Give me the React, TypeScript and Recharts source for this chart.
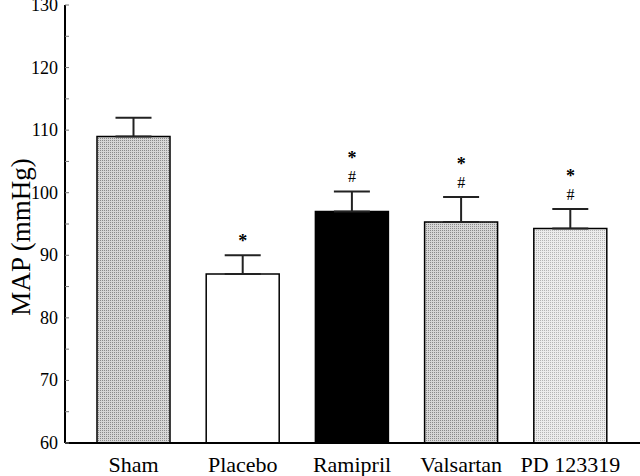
import React from 'react';
import { ComposedChart, Bar, Cell, ErrorBar, Scatter, XAxis, YAxis, Label } from 'recharts';

const groups = ['Sham', 'Placebo', 'Ramipril', 'Valsartan', 'PD 123319'];
const meanMap = [109, 87, 97, 95.3, 94.3];
const semMap = [3, 3, 3.2, 4, 3.1];
const marks = ['', '*', '*#', '*#', '*#'];
const fills = ['url(#dotsMid)', '#ffffff', '#000000', 'url(#dotsMid)', 'url(#dotsLight)'];
const yTicks = [60, 65, 70, 75, 80, 85, 90, 95, 100, 105, 110, 115, 120, 125, 130];

const data = groups.map((name, i) => ({
  name,
  map: meanMap[i],
  err: [0, semMap[i]],
  top: meanMap[i] + semMap[i],
  mark: marks[i],
}));

const FONT = '"Liberation Serif", "Times New Roman", serif';

function YTick(props: any) {
  const { x, y, payload } = props;
  const major = payload.value % 10 === 0;
  return (
    <g>
      <line x1={x} y1={y} x2={x + 4} y2={y} stroke="#777" strokeWidth={1} />
      {major && (
        <text x={x - 7} y={y + 6} textAnchor="end" fontSize={18} fontFamily={FONT} fill="#000">
          {payload.value}
        </text>
      )}
    </g>
  );
}

function XTick(props: any) {
  const { x, y, payload } = props;
  return (
    <text x={x} y={y + 27} textAnchor="middle" fontSize={22} fontFamily={FONT} fill="#000">
      {payload.value}
    </text>
  );
}

function YTitle() {
  return (
    <text
      transform="translate(30,237) rotate(-90)"
      textAnchor="middle"
      fontSize={27}
      fontFamily={FONT}
      fill="#000"
    >
      MAP (mmHg)
    </text>
  );
}

function Marker(props: any) {
  const { cx, cy, payload } = props;
  if (!payload.mark) return <g />;
  if (payload.mark === '*') {
    return (
      <text x={cx} y={cy - 8} textAnchor="middle" fontSize={18} fontWeight="bold" fontFamily={FONT} fill="#000">*</text>
    );
  }
  return (
    <g>
      <text x={cx} y={cy - 27} textAnchor="middle" fontSize={18} fontWeight="bold" fontFamily={FONT} fill="#000">*</text>
      <text x={cx} y={cy - 9} textAnchor="middle" fontSize={16} fontFamily={FONT} fill="#000">#</text>
    </g>
  );
}

export default function App() {
  return (
    <div style={{ position: 'absolute', left: 0, top: 0, width: 640, height: 476, background: '#fff' }}>
      <ComposedChart width={640} height={476} data={data} margin={{ top: 5, right: 0, bottom: 0, left: 0 }}>
        <defs>
          <pattern id="dotsMid" width={2} height={2} patternUnits="userSpaceOnUse">
            <rect width={2} height={2} fill="#d6d6d6" />
            <rect width={1} height={1} fill="#8a8a8a" />
          </pattern>
          <pattern id="dotsLight" width={2} height={2} patternUnits="userSpaceOnUse">
            <rect width={2} height={2} fill="#ececec" />
            <rect width={1} height={1} fill="#b4b4b4" />
          </pattern>
        </defs>
        <XAxis
          dataKey="name"
          height={33}
          padding={{ left: 14, right: 15 }}
          axisLine={{ stroke: '#000', strokeWidth: 2 }}
          tickLine={false}
          tickSize={0}
          tick={<XTick />}
          interval={0}
        />
        <YAxis
          width={65}
          domain={[60, 130]}
          ticks={yTicks}
          allowDataOverflow
          axisLine={{ stroke: '#000', strokeWidth: 2 }}
          tickLine={false}
          tickSize={0}
          tickMargin={0}
          tick={<YTick />}
          interval={0}
        >
          <Label content={<YTitle />} />
        </YAxis>
        <Bar dataKey="map" barSize={73} stroke="#000" strokeWidth={1.5} isAnimationActive={false}>
          {data.map((d, i) => (
            <Cell key={d.name} fill={fills[i]} />
          ))}
          <ErrorBar dataKey="err" width={18} stroke="#222" strokeWidth={2} direction="y" />
        </Bar>
        <Scatter dataKey="top" shape={<Marker />} isAnimationActive={false} />
      </ComposedChart>
    </div>
  );
}
